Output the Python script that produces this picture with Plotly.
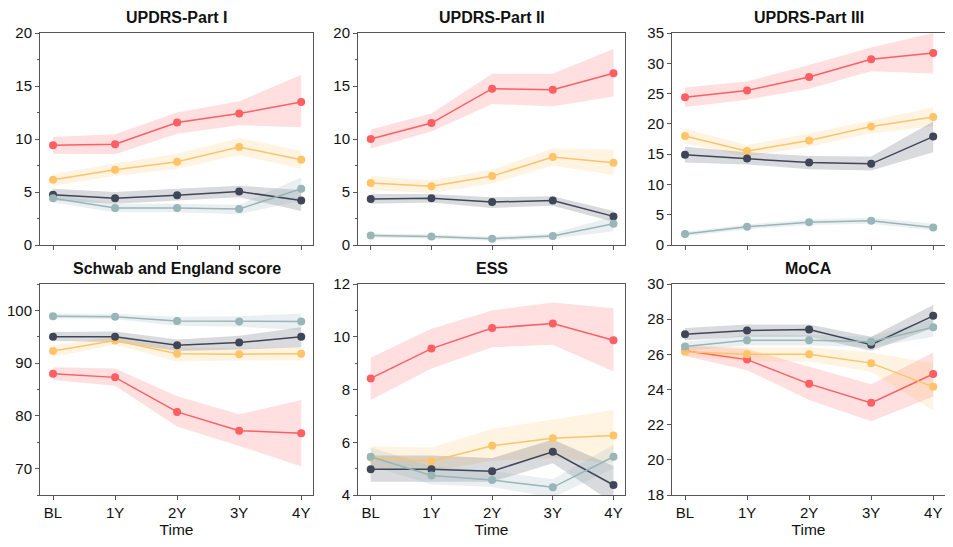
import plotly.graph_objects as go

time_labels = ["BL", "1Y", "2Y", "3Y", "4Y"]
titles = ["UPDRS-Part I", "UPDRS-Part II", "UPDRS-Part III",
          "Schwab and England score", "ESS", "MoCA"]
series_names = ["Red", "Yellow", "Dark", "Teal"]
colors = {"Red": "#FF5E62", "Yellow": "#FFC468", "Dark": "#3F4657", "Teal": "#98B5B7"}
fills = {"Red": "rgba(255,94,98,0.2)", "Yellow": "rgba(255,196,104,0.2)",
         "Dark": "rgba(63,70,87,0.2)", "Teal": "rgba(152,181,183,0.2)"}

# UPDRS-Part I
p1_mean = {"Red": [9.4, 9.5, 11.55, 12.4, 13.5], "Yellow": [6.15, 7.1, 7.85, 9.25, 8.05],
           "Dark": [4.75, 4.4, 4.7, 5.05, 4.2], "Teal": [4.4, 3.5, 3.5, 3.4, 5.3]}
p1_low = {"Red": [8.6, 8.55, 10.5, 11.3, 11.1], "Yellow": [5.6, 6.5, 7.2, 8.5, 7.2],
          "Dark": [4.2, 3.9, 4.2, 4.5, 3.2], "Teal": [4.0, 3.1, 3.1, 2.9, 4.2]}
p1_high = {"Red": [10.2, 10.45, 12.5, 13.55, 16.05], "Yellow": [6.7, 7.7, 8.6, 10.1, 8.9],
           "Dark": [5.3, 5.0, 5.3, 5.6, 5.2], "Teal": [4.8, 3.9, 3.9, 3.8, 6.4]}

# UPDRS-Part II
p2_mean = {"Red": [10.0, 11.5, 14.75, 14.65, 16.2], "Yellow": [5.85, 5.55, 6.5, 8.3, 7.75],
           "Dark": [4.35, 4.4, 4.05, 4.2, 2.7], "Teal": [0.9, 0.8, 0.6, 0.85, 2.0]}
p2_low = {"Red": [9.1, 10.7, 13.3, 13.1, 14.0], "Yellow": [5.2, 4.9, 5.8, 7.5, 6.6],
          "Dark": [3.9, 4.0, 3.5, 3.7, 2.2], "Teal": [0.7, 0.6, 0.4, 0.6, 1.3]}
p2_high = {"Red": [10.9, 12.4, 16.15, 16.15, 18.5], "Yellow": [6.5, 6.1, 7.1, 9.1, 9.0],
           "Dark": [4.8, 4.8, 4.5, 4.6, 3.2], "Teal": [1.1, 1.0, 0.8, 1.1, 2.7]}

# UPDRS-Part III
p3_mean = {"Red": [24.4, 25.5, 27.75, 30.65, 31.7], "Yellow": [18.0, 15.5, 17.25, 19.55, 21.15],
           "Dark": [14.9, 14.3, 13.6, 13.4, 17.9], "Teal": [1.8, 3.0, 3.75, 4.0, 2.9]}
p3_low = {"Red": [22.8, 24.0, 25.8, 28.7, 28.3], "Yellow": [16.8, 14.6, 16.2, 18.4, 19.6],
          "Dark": [13.6, 13.3, 12.5, 12.3, 15.3], "Teal": [1.4, 2.6, 3.3, 3.5, 2.4]}
p3_high = {"Red": [26.0, 27.0, 29.7, 32.6, 35.0], "Yellow": [19.2, 16.5, 18.4, 20.6, 22.7],
           "Dark": [16.2, 15.3, 14.7, 14.6, 20.4], "Teal": [2.2, 3.4, 4.2, 4.5, 3.5]}

# Schwab and England score
p4_mean = {"Red": [88.0, 87.3, 80.75, 77.2, 76.7], "Yellow": [92.3, 94.3, 91.8, 91.7, 91.8],
           "Dark": [95.0, 95.0, 93.4, 93.9, 95.0], "Teal": [98.9, 98.8, 98.0, 97.9, 97.9]}
p4_low = {"Red": [86.8, 85.7, 78.0, 74.3, 70.4], "Yellow": [91.2, 93.5, 90.3, 90.5, 90.5],
          "Dark": [94.2, 94.0, 92.3, 92.6, 93.0], "Teal": [98.4, 98.3, 97.1, 96.9, 96.2]}
p4_high = {"Red": [89.2, 89.0, 83.7, 80.3, 83.0], "Yellow": [93.4, 95.1, 93.0, 92.8, 93.0],
           "Dark": [95.9, 96.0, 94.5, 95.2, 96.8], "Teal": [99.4, 99.3, 98.8, 98.9, 99.4]}

# ESS
p5_mean = {"Red": [8.42, 9.55, 10.33, 10.5, 9.87], "Yellow": [5.42, 5.28, 5.87, 6.15, 6.26],
           "Dark": [4.98, 4.98, 4.9, 5.64, 4.38], "Teal": [5.45, 4.74, 4.57, 4.29, 5.45]}
p5_low = {"Red": [7.6, 8.8, 9.6, 9.7, 8.68], "Yellow": [5.0, 4.9, 5.3, 5.4, 5.2],
          "Dark": [4.5, 4.5, 4.5, 5.2, 3.7], "Teal": [5.1, 4.4, 4.3, 3.9, 5.0]}
p5_high = {"Red": [9.2, 10.3, 11.0, 11.3, 11.08], "Yellow": [5.85, 5.8, 6.5, 6.85, 7.22],
           "Dark": [5.5, 5.5, 5.4, 6.1, 5.1], "Teal": [5.8, 5.1, 4.9, 4.6, 5.9]}

# MoCA
p6_mean = {"Red": [26.2, 25.7, 24.32, 23.24, 24.88], "Yellow": [26.15, 26.0, 26.0, 25.5, 24.15],
           "Dark": [27.14, 27.35, 27.41, 26.55, 28.19], "Teal": [26.44, 26.8, 26.8, 26.72, 27.54]}
p6_low = {"Red": [25.9, 25.1, 23.4, 22.2, 23.6], "Yellow": [25.9, 25.6, 25.6, 25.0, 22.8],
          "Dark": [26.8, 27.0, 27.0, 26.2, 27.5], "Teal": [26.2, 26.5, 26.5, 26.4, 27.0]}
p6_high = {"Red": [26.5, 26.3, 25.3, 24.3, 26.1], "Yellow": [26.5, 26.4, 26.4, 26.1, 25.5],
           "Dark": [27.5, 27.7, 27.7, 27.0, 28.8], "Teal": [26.7, 27.1, 27.1, 27.0, 28.0]}

panels = [(p1_mean, p1_low, p1_high), (p2_mean, p2_low, p2_high), (p3_mean, p3_low, p3_high),
          (p4_mean, p4_low, p4_high), (p5_mean, p5_low, p5_high), (p6_mean, p6_low, p6_high)]

y_ranges = [[0, 20], [0, 20], [0, 35], [65, 105], [4, 12], [18, 30]]
y_dticks = [5, 5, 5, 10, 2, 2]
y_minor = [True, True, False, True, True, False]

# page body adds an 8px offset; figure drawn in 945x539 so it fits the window
OFF = 8
W, H = 953 - OFF, 547 - OFF
x_px = [(40, 313), (358, 625), (672, 945)]
y_px = [(33, 245), (284, 495)]

fig = go.Figure()
xs = list(range(len(time_labels)))
FONT = "Liberation Sans, Arial, sans-serif"
AX = "#555555"
TXT = "#111111"

for i, (mean, low, high) in enumerate(panels):
    r, c = divmod(i, 3)
    suffix = "" if i == 0 else str(i + 1)
    xa, ya = "x" + suffix, "y" + suffix
    for s in series_names:
        fig.add_trace(go.Scatter(x=xs + xs[::-1], y=high[s] + low[s][::-1], fill="toself",
                                 fillcolor=fills[s], line=dict(width=0), mode="lines",
                                 hoverinfo="skip", showlegend=False, xaxis=xa, yaxis=ya))
    for s in series_names:
        fig.add_trace(go.Scatter(x=xs, y=mean[s], mode="lines+markers",
                                 line=dict(color=colors[s], width=1.5),
                                 marker=dict(color=colors[s], size=8),
                                 name=s, showlegend=False, xaxis=xa, yaxis=ya))
    x0, x1 = x_px[c]
    yt, yb = y_px[r]
    xdom = [(x0 - OFF) / W, (x1 - OFF) / W]
    ydom = [1 - (yb - OFF) / H, 1 - (yt - OFF) / H]
    xkey = "xaxis" + suffix
    ykey = "yaxis" + suffix
    fig.layout[xkey] = dict(domain=xdom, anchor=ya, range=[-0.21, 4.19], automargin=False,
                            tickmode="array", tickvals=xs,
                            ticktext=time_labels if r == 1 else [""] * 5,
                            showticklabels=(r == 1),
                            ticks="outside", ticklen=4, tickcolor=AX, tickwidth=1,
                            showline=True, linecolor=AX, linewidth=1, mirror=True,
                            showgrid=False, zeroline=False,
                            tickfont=dict(size=15, color=TXT, family=FONT),
                            title=dict(text="Time" if r == 1 else "", standoff=0,
                                       font=dict(size=15.5, color=TXT, family=FONT)))
    ydict = dict(domain=ydom, anchor=xa, range=y_ranges[i], dtick=y_dticks[i], tick0=0,
                 automargin=False, ticks="outside", ticklen=4, tickcolor=AX, tickwidth=1,
                 showline=True, linecolor=AX, linewidth=1, mirror=True,
                 showgrid=False, zeroline=False,
                 tickfont=dict(size=15, color=TXT, family=FONT))
    if y_minor[i]:
        ydict["minor"] = dict(dtick=y_dticks[i] / 2, ticks="outside", ticklen=2.5,
                              tickcolor=AX, showgrid=False)
    fig.layout[ykey] = ydict
    fig.add_annotation(text="<b>" + titles[i] + "</b>", x=(xdom[0] + xdom[1]) / 2,
                       y=ydom[1], xref="paper", yref="paper", xanchor="center",
                       yanchor="bottom", yshift=5, showarrow=False,
                       font=dict(size=16, color=TXT, family=FONT))

fig.update_layout(width=W, height=H, margin=dict(l=0, r=0, t=0, b=0),
                  plot_bgcolor="white", paper_bgcolor="white", showlegend=False)

fig.write_html("out.html")
